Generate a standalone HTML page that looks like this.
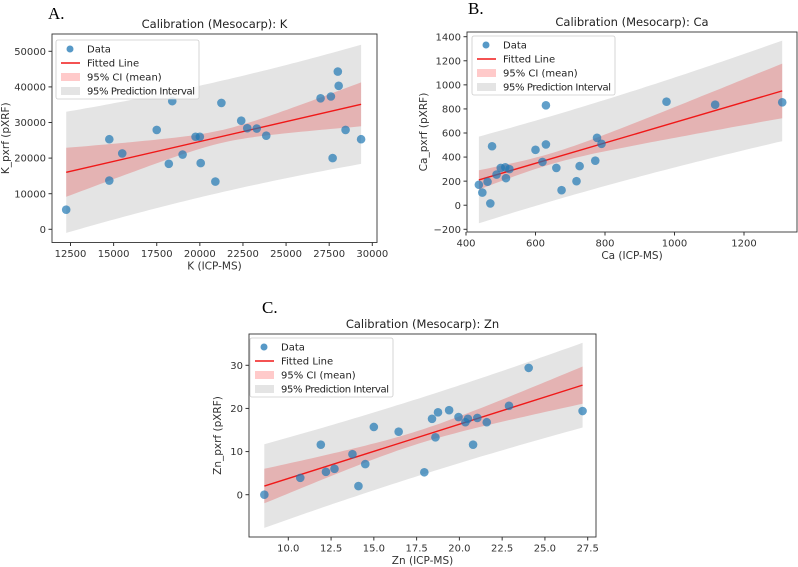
<!DOCTYPE html>
<html><head><meta charset="utf-8">
<style>
body{margin:0;background:#fff;}
svg{display:block;font-family:"DejaVu Sans","Liberation Sans",sans-serif;}
</style></head>
<body>
<svg id="fig" width="798" height="567" viewBox="0 0 798 567" xmlns="http://www.w3.org/2000/svg"></svg>
<script>
// ---- Panel A (K) data ----
const kX = [12250,14750,14750,15500,17500,18200,18400,19000,19750,20000,20050,20900,21250,22400,22750,23300,23850,27000,27600,27700,28000,28050,28450,29350];
const kY = [5500,25300,13700,21300,27900,18400,36000,21000,26000,26000,18600,13400,35500,30500,28400,28300,26300,36800,37300,20000,44300,40300,27900,25300];
const kXTicks = [12500,15000,17500,20000,22500,25000,27500,30000];
const kYTicks = [0,10000,20000,30000,40000,50000];
const kFit = [16000,35100];
const kCI = [1800,0.539,21300];
const kPI = [15560];
// ---- Panel B (Ca) data ----
const caX = [437,447,462,470,475,488,500,513,515,525,600,620,630,630,660,675,718,727,772,777,790,977,1117,1310];
const caY = [170,105,195,15,490,255,310,315,225,300,460,360,505,830,310,125,200,325,370,560,510,860,835,855];
const caXTicks = [400,600,800,1000,1200];
const caYTicks = [-200,0,200,400,600,800,1000,1200,1400];
const caFit = [210,950];
const caCI = [45,0.11,640];
const caPI = [351];
// ---- Panel C (Zn) data ----
const znX = [8.6,10.7,11.9,12.2,12.7,13.75,14.1,14.5,15,16.45,17.95,18.4,18.6,18.75,19.4,19.95,20.35,20.5,20.8,21.05,21.6,22.9,24.05,27.2];
const znY = [0,3.9,11.6,5.3,6,9.4,2,7.1,15.7,14.6,5.2,17.6,13.3,19.1,19.6,18,16.8,17.6,11.6,17.8,16.8,20.6,29.4,19.4];
const znXTicks = [10,12.5,15,17.5,20,22.5,25,27.5];
const znXLabels = ["10.0","12.5","15.0","17.5","20.0","22.5","25.0","27.5"];
const znYTicks = [0,10,20,30];
const znFit = [2,25.4];
const znCI = [1.5,0.174,17.5];
const znPI = [8.83];

const NS="http://www.w3.org/2000/svg";
const svg=document.getElementById('fig');
function mk(tag,attrs,parent){const e=document.createElementNS(NS,tag);for(const k in attrs)e.setAttribute(k,attrs[k]);(parent||svg).appendChild(e);return e;}

function panel(o){
  const g=mk('g',{});
  
  
  const sx=v=>o.px0+(v-o.xv0)*(o.px1-o.px0)/(o.xv1-o.xv0);
  const sy=v=>o.py0+(v-o.yv0)*(o.py1-o.py0)/(o.yv1-o.yv0);
  const xmin=Math.min(...o.xs), xmax=Math.max(...o.xs);
  const slope=(o.fit[1]-o.fit[0])/(xmax-xmin);
  const yhat=x=>o.fit[0]+slope*(x-xmin);
  const ci=x=>Math.sqrt(o.ci[0]*o.ci[0]+o.ci[1]*(x-o.ci[2])*(x-o.ci[2]));
  const pi=x=>Math.sqrt(o.pi[0]*o.pi[0]+ci(x)*ci(x));
  const N=60, xsS=[];
  for(let i=0;i<=N;i++)xsS.push(xmin+(xmax-xmin)*i/N);
  function band(f,name,fill){
    let d='M';
    xsS.forEach((x,i)=>{d+=(i?' L':'')+sx(x).toFixed(1)+','+sy(yhat(x)+f(x)).toFixed(1);});
    for(let i=xsS.length-1;i>=0;i--){const x=xsS[i];d+=' L'+sx(x).toFixed(1)+','+sy(yhat(x)-f(x)).toFixed(1);}
    const p=mk('path',{d:d+' Z',fill:fill},g);
    
    
  }
  band(pi,'prediction-interval-band','#e4e4e4');
  band(ci,'confidence-band','rgba(230,90,90,0.35)');
  const ln=mk('line',{x1:sx(xmin),y1:sy(yhat(xmin)),x2:sx(xmax),y2:sy(yhat(xmax)),stroke:'#f01818','stroke-width':1.4},g);
  
  
  o.xs.forEach((x,i)=>{
    const c=mk('circle',{cx:sx(x),cy:sy(o.ys[i]),r:4.3,fill:'rgba(31,119,180,0.7)'},g);
    
    
  });
  const fr=mk('rect',{x:o.bx0,y:o.by0,width:o.bx1-o.bx0,height:o.by1-o.by0,fill:'none',stroke:'#333','stroke-width':0.9},g);
  
  
  o.xt.forEach((t,i)=>{
    const x=sx(t);
    mk('line',{x1:x,y1:o.by1,x2:x,y2:o.by1+3.5,stroke:'#333'},g);
    const tx=mk('text',{x:x,y:o.by1+14.5,'font-size':10,'text-anchor':'middle',fill:'#333'},g);
    tx.textContent=o.xl?o.xl[i]:String(t);
    
    
  });
  o.yt.forEach(t=>{
    const y=sy(t);
    mk('line',{x1:o.bx0-3.5,y1:y,x2:o.bx0,y2:y,stroke:'#333'},g);
    const tx=mk('text',{x:o.bx0-6,y:y+3.6,'font-size':10,'text-anchor':'end',fill:'#333'},g);
    tx.textContent=t<0?'\u2212'+Math.abs(t):String(t);
    
    
  });
  const xtl=mk('text',{x:(o.bx0+o.bx1)/2,y:o.by1+27,'font-size':10.5,'text-anchor':'middle',fill:'#333'},g);
  xtl.textContent=o.xlabel;
  
  
  const ytl=mk('text',{x:o.ylx,y:(o.by0+o.by1)/2,'font-size':10.5,'text-anchor':'middle',fill:'#333',transform:`rotate(-90 ${o.ylx} ${(o.by0+o.by1)/2})`},g);
  ytl.textContent=o.ylabel;
  
  
  const ti=mk('text',{x:(o.bx0+o.bx1)/2,y:o.by0-6,'font-size':11.5,'text-anchor':'middle',fill:'#222'},g);
  ti.textContent=o.title;
  
  
  const lt=mk('text',{x:o.lab[0],y:o.lab[1],'font-size':17,fill:'#000','font-family':'"Liberation Serif",serif'},g);
  lt.textContent=o.letter;
  
  
  const lg=mk('g',{},g);
  
  
  const [lx,ly]=o.leg;
  mk('rect',{x:lx,y:ly,width:143,height:59,rx:2,fill:'rgba(255,255,255,0.85)',stroke:'#ccc','stroke-width':0.8},lg);
  const items=['Data','Fitted Line','95% CI (mean)','95% Prediction Interval'];
  items.forEach((t,i)=>{
    const yy=ly+9+i*14;
    if(i===0)mk('circle',{cx:lx+14,cy:yy,r:3.5,fill:'rgba(31,119,180,0.75)'},lg);
    if(i===1)mk('line',{x1:lx+5,y1:yy,x2:lx+24,y2:yy,stroke:'#f01818','stroke-width':1.4},lg);
    if(i===2)mk('rect',{x:lx+5,y:yy-4,width:19,height:8,fill:'#ffcaca'},lg);
    if(i===3)mk('rect',{x:lx+5,y:yy-4,width:19,height:8,fill:'#e4e4e4'},lg);
    const tx=mk('text',{x:lx+31,y:yy+3.6,'font-size':10,fill:'#222',textLength:(i===3?108:null)},lg);
    if(i!==3)tx.removeAttribute('textLength');
    tx.textContent=t;
    
    
  });
}

panel({id:'k',xs:kX,ys:kY,fit:kFit,ci:kCI,pi:kPI,xt:kXTicks,yt:kYTicks,
  px0:70.5,px1:372.3,xv0:12500,xv1:30000,py0:229.3,py1:51.3,yv0:0,yv1:50000,
  bx0:52,bx1:377,by0:34,by1:242.5,xlabel:'K (ICP-MS)',ylabel:'K_pxrf (pXRF)',ylx:9,
  title:'Calibration (Mesocarp): K',letter:'A.',lab:[48,19],leg:[56,40]});
panel({id:'ca',xs:caX,ys:caY,fit:caFit,ci:caCI,pi:caPI,xt:caXTicks,yt:caYTicks,
  px0:466,px1:744,xv0:400,xv1:1200,py0:229.3,py1:36.7,yv0:-200,yv1:1400,
  bx0:467,bx1:797,by0:32,by1:232,xlabel:'Ca (ICP-MS)',ylabel:'Ca_pxrf (pXRF)',ylx:427,
  title:'Calibration (Mesocarp): Ca',letter:'B.',lab:[468,14],leg:[472,36]});
panel({id:'zn',xs:znX,ys:znY,fit:znFit,ci:znCI,pi:znPI,xt:znXTicks,xl:znXLabels,yt:znYTicks,
  px0:288.3,px1:587.7,xv0:10,xv1:27.5,py0:494.7,py1:365.3,yv0:0,yv1:30,
  bx0:249,bx1:596,by0:334,by1:537,xlabel:'Zn (ICP-MS)',ylabel:'Zn_pxrf (pXRF)',ylx:221,
  title:'Calibration (Mesocarp): Zn',letter:'C.',lab:[262,313],leg:[250,338]});
</script>
</body></html>
